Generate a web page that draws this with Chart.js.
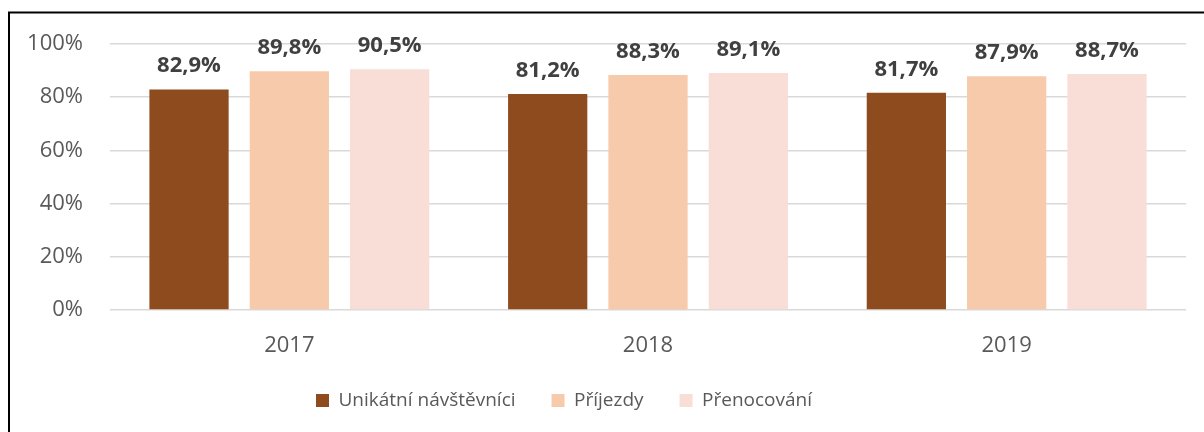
<!DOCTYPE html>
<html>
<head>
<meta charset="utf-8">
<script src="https://cdn.jsdelivr.net/npm/chart.js@4.4.0/dist/chart.umd.min.js"></script>
<style>
  html, body { margin: 0; padding: 0; background: #fff; }
  #wrap { width: 1204px; height: 432px; }
</style>
</head>
<body>
<div id="wrap"><canvas id="chart" width="1204" height="432"></canvas></div>
<script>
const years = ["2017", "2018", "2019"];
const seriesNames = ["Unikátní návštěvníci", "Příjezdy", "Přenocování"];
const unikatni = [82.9, 81.2, 81.7];
const prijezdy = [89.8, 88.3, 87.9];
const prenocovani = [90.5, 89.1, 88.7];
const yTicks = [0, 20, 40, 60, 80, 100];

const colors = ["#8E4B1E", "#F7CAAC", "#F8DED6"];
const fontFamily = "'Open Sans', 'Noto Sans', sans-serif";

const fmt = (v) => v.toFixed(1).replace(".", ",") + "%";

// frame around the chart (cropped on the right and bottom in the original)
const framePlugin = {
  id: "frame",
  beforeDraw(chart) {
    const ctx = chart.ctx;
    ctx.save();
    ctx.strokeStyle = "#000";
    ctx.lineWidth = 2;
    ctx.beginPath();
    ctx.moveTo(9, 432);
    ctx.lineTo(9, 12.5);
    ctx.lineTo(1204, 12.5);
    ctx.stroke();
    ctx.restore();
  },
};

// value labels above the bars
const valueLabels = {
  id: "valueLabels",
  afterDatasetsDraw(chart) {
    const ctx = chart.ctx;
    ctx.save();
    ctx.font = "bold 22px " + fontFamily;
    ctx.fillStyle = "#404040";
    ctx.textAlign = "center";
    ctx.textBaseline = "alphabetic";
    chart.data.datasets.forEach((ds, i) => {
      chart.getDatasetMeta(i).data.forEach((bar, j) => {
        ctx.fillText(fmt(ds.data[j]), bar.x, bar.y - 17);
      });
    });
    ctx.restore();
  },
};

// the legend in the original is not centred on the canvas
const legendShift = {
  id: "legendShift",
  afterLayout(chart) {
    const lg = chart.legend;
    if (!lg) return;
    lg.left -= 29;
    lg.right -= 29;
    lg.top -= 7;
    lg.bottom -= 7;
  },
};

new Chart(document.getElementById("chart"), {
  type: "bar",
  data: {
    labels: years,
    datasets: [
      { label: seriesNames[0], data: unikatni, backgroundColor: colors[0] },
      { label: seriesNames[1], data: prijezdy, backgroundColor: colors[1] },
      { label: seriesNames[2], data: prenocovani, backgroundColor: colors[2] },
    ],
  },
  options: {
    responsive: false,
    devicePixelRatio: 1,
    animation: false,
    layout: { padding: { top: 44, left: 0, right: 18, bottom: 5 } },
    datasets: {
      bar: { categoryPercentage: 0.839, barPercentage: 0.79 },
    },
    plugins: {
      legend: {
        position: "bottom",
        labels: {
          boxWidth: 13,
          boxHeight: 13,
          padding: 36,
          color: "#595959",
          font: { family: fontFamily, size: 19 },
        },
      },
      tooltip: { enabled: false },
    },
    scales: {
      x: {
        afterFit: (axis) => {
          axis.height = 52;
        },
        grid: { display: false, drawTicks: false },
        border: { display: false },
        ticks: {
          color: "#595959",
          padding: 23,
          font: { family: fontFamily, size: 22 },
        },
      },
      y: {
        min: 0,
        max: 100,
        afterBuildTicks: (axis) => {
          axis.ticks = yTicks.map((v) => ({ value: v }));
        },
        afterFit: (axis) => {
          axis.width = 110;
        },
        grid: { color: "#D9D9D9", lineWidth: 1.5, drawTicks: false },
        border: { display: false },
        ticks: {
          color: "#595959",
          padding: 27,
          font: { family: fontFamily, size: 22 },
          callback: (v) => v + "%",
        },
      },
    },
  },
  plugins: [framePlugin, valueLabels, legendShift],
});
</script>
</body>
</html>
